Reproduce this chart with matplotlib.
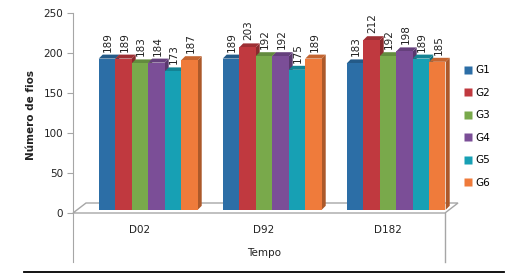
import matplotlib.pyplot as plt
import numpy as np
from matplotlib.patches import Polygon
from matplotlib.lines import Line2D

# data
categories = ["D02", "D92", "D182"]
groups = ["G1", "G2", "G3", "G4", "G5", "G6"]
values = {
    "G1": [189, 189, 183],
    "G2": [189, 203, 212],
    "G3": [183, 192, 192],
    "G4": [184, 192, 198],
    "G5": [173, 175, 189],
    "G6": [187, 189, 185],
}
colors = ["#2c6ea6", "#c0393f", "#79a94b", "#7b4e97", "#17a0b4", "#ef7b3b"]
y_ticks = [0, 50, 100, 150, 200, 250]

W, H = 506, 274
fig = plt.figure(figsize=(W / 100, H / 100), dpi=100)
ax = fig.add_axes([73 / W, (H - 262) / H, (445 - 73) / W, (262 - 13) / H])

x_lo, x_hi = -0.540, 2.460
y_lo, y_hi = -61.25, 250
ax.set_xlim(x_lo, x_hi)
ax.set_ylim(y_lo, y_hi)

# pixel -> data unit helpers for the fake 3D offsets
px_x = (x_hi - x_lo) / (445 - 73)
px_y = (y_hi - y_lo) / (262 - 13)


def shade(c, f):
    c = np.array(plt.matplotlib.colors.to_rgb(c))
    return tuple(np.clip(c * f, 0, 1))


grey = "#a6a6a6"

# floor
fdx, fdy = 13 * px_x, 10 * px_y
floor = Polygon([(x_lo, 0), (x_lo + fdx, fdy), (x_hi + fdx, fdy), (x_hi, 0)],
                closed=True, facecolor="white", edgecolor=grey, lw=1.0,
                clip_on=False, zorder=1)
ax.add_patch(floor)
ax.plot([x_hi, x_hi], [y_lo, 0], color=grey, lw=1.0, clip_on=False, zorder=1)

# bars
bw = 16.5 * px_x
base = 4.0
bdx, bdy = 4 * px_x, 4 * px_y
x = np.arange(len(categories))
z = 2
for ci in range(len(categories)):
    for gi, g in enumerate(groups):
        v = values[g][ci]
        xl = x[ci] + (gi - 2.5) * bw
        xr = xl + bw
        top = base + v
        side = Polygon([(xr, base), (xr + bdx, base + bdy), (xr + bdx, top + bdy), (xr, top)],
                       closed=True, facecolor=shade(colors[gi], 0.72), edgecolor="none",
                       zorder=z, clip_on=False)
        ax.add_patch(side)
        topf = Polygon([(xl, top), (xl + bdx, top + bdy), (xr + bdx, top + bdy), (xr, top)],
                       closed=True, facecolor=shade(colors[gi], 0.82), edgecolor="none",
                       zorder=z, clip_on=False)
        ax.add_patch(topf)
        ax.bar(xl, v, width=bw, bottom=base, align="edge", color=colors[gi],
               edgecolor="none", zorder=z + 0.5)
        z += 1
        ax.text(xl + bw / 2 + 1 * px_x, top + bdy + 3 * px_y, str(v), rotation=90,
                ha="center", va="bottom", fontsize=7.5, color="#222222", zorder=100)

# axes styling
for s in ["top", "right", "bottom"]:
    ax.spines[s].set_visible(False)
ax.spines["left"].set_color(grey)
ax.set_xticks([])
ax.set_yticks(y_ticks)
ax.tick_params(axis="y", colors=grey, length=4, labelsize=7.5, labelcolor="#222222", pad=3)

for ci, cat in enumerate(categories):
    ax.text(x[ci], -21, cat, ha="center", va="center", fontsize=7.5, color="#222222")
ax.text(x[1], -50, "Tempo", ha="center", va="center", fontsize=7.5, color="#222222")

fig.text(31 / W, 1 - 115 / H, "Número de fios", rotation=90, ha="center", va="center",
         fontsize=7.5, fontweight="bold", color="#222222")

leg_handles = [Line2D([], [], marker="s", linestyle="none", markersize=5.5,
                      markerfacecolor=c, markeredgecolor="none") for c in colors]
fig.legend(leg_handles, groups, loc="upper left", bbox_to_anchor=(460 / W, 1 - 61 / H),
           frameon=False, fontsize=7.5, labelspacing=1.2, handlelength=0.8,
           handletextpad=0.3, borderaxespad=0)

# separator line at the bottom
fig.add_artist(Line2D([24 / W, 504 / W], [1 - 272 / H, 1 - 272 / H], color="black", lw=1.3))

fig.savefig("out.png", dpi=100)
